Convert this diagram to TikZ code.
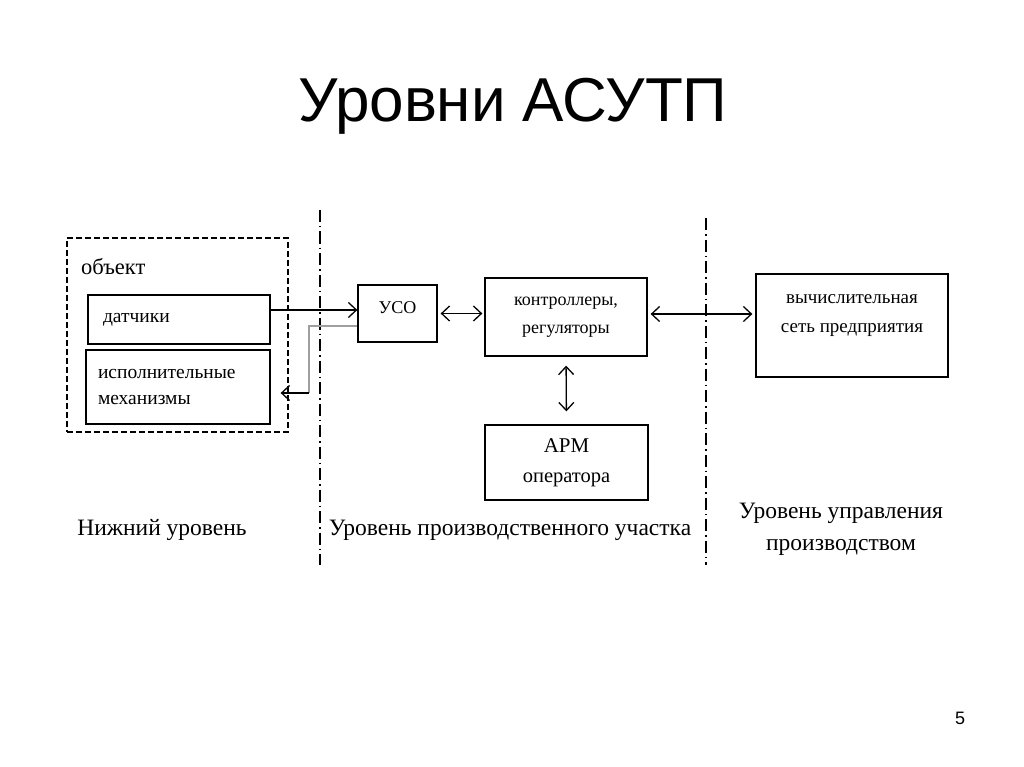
\documentclass[tikz,border=0pt]{standalone}
\usepackage{fontspec}
\setmainfont{Liberation Serif}
\newfontfamily\titlefont{Liberation Sans}
\usetikzlibrary{arrows.meta}
\begin{document}
\begin{tikzpicture}[x=1pt,y=-1pt,
    box/.style={draw,line width=1.3pt,inner sep=0pt},
    boxtext/.style={font=\fontsize{18}{28}\selectfont,align=center},
    leveltext/.style={font=\fontsize{23.5}{32}\selectfont,align=center},
    bound/.style={line width=1.2pt,dash pattern=on 12pt off 4pt on 1.5pt off 4pt},
    tip/.tip={Straight Barb[length=8pt,width=15pt]},
    sig/.style={line width=1.3pt,-tip},
    link/.style={line width=1.3pt,tip-tip}]
    \fill[white] (0,0) rectangle (1024,767);
    \useasboundingbox (0,0) rectangle (1024,767);
    \node[font=\titlefont\fontsize{62}{72}\selectfont,anchor=base] (title) at (513,122) {Уровни АСУТП};
    \node[box,line width=1.2pt,dash pattern=on 6pt off 3pt,minimum width=221pt,minimum height=194pt] (obj) at (177.5,335) {};
    \node[font=\fontsize{22.5}{26}\selectfont,anchor=base west,inner sep=0pt] (objname) at (81,274) {объект};
    \node[box,boxtext,minimum width=182pt,minimum height=49pt,text width=152pt,align=left,font=\fontsize{19.5}{26}\selectfont] (sens) at (179,319.5) {датчики};
    \node[box,boxtext,minimum width=184pt,minimum height=74pt,text width=160pt,align=left,font=\fontsize{19.5}{26}\selectfont] (act) at (178,387) {исполнительные\\механизмы};
    \node[box,boxtext,minimum width=79pt,minimum height=57pt,text depth=12pt] (uso) at (397.5,313.5) {УСО};
    \node[box,boxtext,minimum width=162pt,minimum height=78pt] (ctrl) at (566,317) {контроллеры,\\регуляторы};
    \node[box,boxtext,minimum width=192pt,minimum height=103pt,text depth=24pt,font=\fontsize{19}{29}\selectfont] (net) at (852,325.5) {вычислительная\\сеть предприятия};
    \node[box,boxtext,minimum width=163pt,minimum height=75pt,font=\fontsize{20.5}{30}\selectfont] (arm) at (566.5,462.5) {{\fontsize{21}{28}\selectfont АРМ}\\оператора};
    \draw[bound] (320,210) -- (320,565);
    \draw[bound] (706,218) -- (706,565);
    \draw[sig] ([yshift=9.5pt]sens.east) -- ([yshift=3.5pt]uso.west);
    \coordinate (bend) at (309,393);
    \draw[line width=1.8pt,gray!75] ([yshift=-12.5pt]uso.west) -| (bend);
    \draw[sig] (bend) -- ([xshift=10pt,yshift=-6pt]act.east);
    \draw[link,shorten <=3pt,shorten >=2pt] (uso.east) -- (uso.east -| ctrl.west);
    \draw[link,shorten <=3pt,shorten >=3pt] ([yshift=3pt]ctrl.east) -- ([yshift=3pt]ctrl.east -| net.west);
    \draw[link,shorten <=9pt,shorten >=13pt] (ctrl.south) -- (arm.north);
    \node[leveltext] (low) at (162,530) {Нижний уровень};
    \node[leveltext] (mid) at (510,530) {Уровень производственного участка};
    \node[leveltext] (top) at (841,529) {Уровень управления\\производством};
    \node[font=\titlefont\fontsize{18}{22}\selectfont] (page) at (960,718) {5};
\end{tikzpicture}
\end{document}
